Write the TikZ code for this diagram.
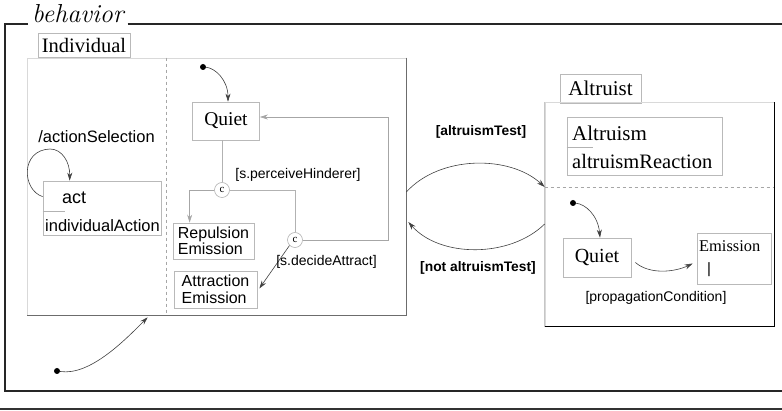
\documentclass[tikz,border=0pt]{standalone}
\usepackage{fontspec}
\usetikzlibrary{arrows.meta,calc}
\newfontfamily\tms{Liberation Serif}
\newfontfamily\ars{Liberation Sans}
\begin{document}
\begin{tikzpicture}[x=1pt,y=-1pt,
  box/.style={draw=gray!55, line width=0.7pt, inner sep=0pt, rectangle},
  lightbox/.style={draw=gray!30, line width=0.7pt, inner sep=0pt, rectangle},
  serifbig/.style={font=\tms\fontsize{20}{22}\selectfont},
  sansmid/.style={font=\ars\fontsize{16.5}{17}\selectfont},
  sanstwo/.style={font=\ars\fontsize{16}{16.5}\selectfont},
  sanssmall/.style={font=\ars\fontsize{14}{15}\selectfont},
  sansbold/.style={font=\ars\bfseries\fontsize{13.8}{15}\selectfont},
  txt/.style={inner sep=0pt},
  conn/.style={draw=black!75, line width=0.6pt, -{Stealth[length=8pt,width=5pt]}},
  gconn/.style={draw=gray!70, line width=0.6pt, -{Stealth[length=8pt,width=5pt]}},
  gline/.style={draw=gray!60, line width=0.6pt},
  initdot/.style={circle, fill=black, inner sep=0pt, minimum size=6pt},
  choice/.style={circle, draw=gray!60, line width=0.6pt, minimum size=15pt, inner sep=0pt, font=\tms\fontsize{11}{12}\selectfont},
  frame/.style={draw=black!85, line width=1.1pt}
]
\useasboundingbox (0,0) rectangle (782,411);

% outer frame
\node[txt, anchor=base west, font=\itshape\fontsize{26}{28}\selectfont] (beh) at (32,23) {behavior};
\coordinate (fl) at (5,24);
\coordinate (fbl) at (5,391);
\coordinate (fbr) at (782,391);
\coordinate (ftr) at (782,24);
\draw[frame] ($(beh.base west)+(-4,1)$) -- (fl) -- (fbl) -- (fbr);
\draw[frame] ($(beh.base east)+(4,1)$) -- (ftr);
\coordinate (bl0) at (0,409);
\coordinate (bl1) at (782,409);
\draw[draw=black!80, line width=1.1pt] (bl0) -- (bl1);

% Individual
\node[box, minimum width=92pt, minimum height=24pt, serifbig] (indtab) at (84,45) {\fontsize{20.5}{22}\selectfont Individual};
\node[lightbox, minimum width=379pt, minimum height=257pt] (ind) at (216.5,186.5) {};
\draw[draw=gray!85!black, line width=0.8pt] (ind.north east) -- (ind.south east) -- (ind.south west);
\draw[dashed, gray!70, line width=0.6pt] ($(ind.north west)+(140,0)$) -- ($(ind.south west)+(140,0)$);

\node[txt, sansmid] (asel) at (96.5,137) {/actionSelection};
\node[box, minimum width=118pt, minimum height=54pt] (act) at (102,208) {};
\node[txt, sansmid, anchor=west] (actname) at (62,198) {\fontsize{18}{19}\selectfont act};
\draw[gline] ($(act.north west)+(0,31)$) -- ++(22,0);
\node[txt, sansmid, anchor=west] (actbody) at (45,226) {individualAction};
\coordinate (loopS) at ($(act.north west)+(0,16)$);
\coordinate (loopE) at ($(act.north west)+(27,0)$);
\draw[conn] (loopS) .. controls (22,190) and (20,150) .. (50,149) .. controls (62,149) and (70,162) .. (loopE);

\node[initdot] (d1) at (203,67) {};
\node[box, minimum width=67pt, minimum height=38pt, serifbig] (q1) at (226,121) {\fontsize{19.5}{21}\selectfont Quiet};
\draw[conn] (d1) .. controls (215,68) and (228,80) .. ($(q1.north)+(2,0)$);
\node[choice] (c1) at (222,190) {c};
\node[choice] (c2) at (295,240) {c};
\node[box, minimum width=81pt, minimum height=36pt, sanstwo, align=left] (rep) at (213.5,241) {Repulsion\\Emission};
\node[box, minimum width=83pt, minimum height=37pt, sanstwo, align=left] (att) at (215.5,289.5) {Attraction\\Emission};
\draw[gline] (q1.south -| c1) -- (c1);
\coordinate (repin) at ($(rep.north west)+(17,0)$);
\draw[gconn] (c1.west) -| (repin);
\draw[gline] (c1.east) -| (c2.north);
\coordinate (qback) at (388,240);
\coordinate (qin) at ($(q1.east)+(0,-4)$);
\draw[gconn] (c2.east) -- (qback) |- (qin);
\draw[conn] (c2.south west) -- ($(att.east)+(2,-1)$);
\node[txt, sanssmall] (g1) at (298,175) {[s.perceiveHinderer]};
\node[txt, sanssmall] (g2) at (326.5,262) {[s.decideAttract]};

% Altruist
\node[box, minimum width=81pt, minimum height=29pt, serifbig] (alttab) at (600.5,88.5) {\fontsize{21}{22}\selectfont Altruist};
\node[lightbox, minimum width=229pt, minimum height=224pt] (alt) at (659.5,214.5) {};
\draw[draw=black, line width=0.9pt] (alt.north east) -- (alt.south east) -- (alt.south west);
\draw[gline, draw=gray!45, line width=0.7pt] (alt.north west) -- (alt.south west);
\draw[dashed, gray!70, line width=0.6pt] ($(alt.north west)+(0,85)$) -- ($(alt.north east)+(0,85)$);

\node[box, minimum width=155pt, minimum height=58pt] (altr) at (644.5,146) {};
\node[txt, serifbig, anchor=west] (altname) at (572,133) {\fontsize{21}{22}\selectfont Altruism};
\draw[gline] ($(altr.north west)+(0,31)$) -- ++(26,0);
\node[txt, serifbig, anchor=west] (altbody) at (572,161) {\fontsize{20.5}{22}\selectfont altruismReaction};

\node[initdot] (d2) at (573,203) {};
\node[box, minimum width=68pt, minimum height=39pt, serifbig] (q2) at (597,257.5) {Quiet};
\draw[conn] (d2) .. controls (585,204) and (598,215) .. ($(q2.north)+(3,0)$);
\node[box, minimum width=74pt, minimum height=51pt] (em) at (734,258.5) {};
\node[txt, anchor=west, font=\tms\fontsize{16.4}{17}\selectfont] (emname) at (699,246) {Emission};
\node[txt, font=\ars\fontsize{15}{16}\selectfont] (embar) at (709,270) {|};
\draw[conn] ($(q2.east)+(4,5)$) .. controls (650,275) and (675,272) .. ($(em.west)+(-4,5)$);
\node[txt, sanssmall] (g3) at (656,298) {[propagationCondition]};

% transitions
\coordinate (t1s) at ($(ind.east)+(0,5.5)$);
\coordinate (t1e) at ($(alt.west)+(0,-27.5)$);
\draw[conn] (t1s) .. controls (440,155) and (510,155) .. (t1e);
\coordinate (t2s) at ($(alt.west)+(0,9.5)$);
\coordinate (t2e) at ($(ind.east)+(2,35.5)$);
\draw[conn] (t2s) .. controls (510,258) and (440,258) .. (t2e);
\node[txt, sansbold] (l1) at (481,132) {[altruismTest]};
\node[txt, sansbold] (l2) at (478,268) {[not altruismTest]};

% initial transition of behavior
\node[initdot] (d3) at (57,371) {};
\coordinate (indin) at ($(ind.south west)+(121,2)$);
\draw[conn] (d3) .. controls (90,376) and (125,340) .. (indin);
\end{tikzpicture}
\end{document}
